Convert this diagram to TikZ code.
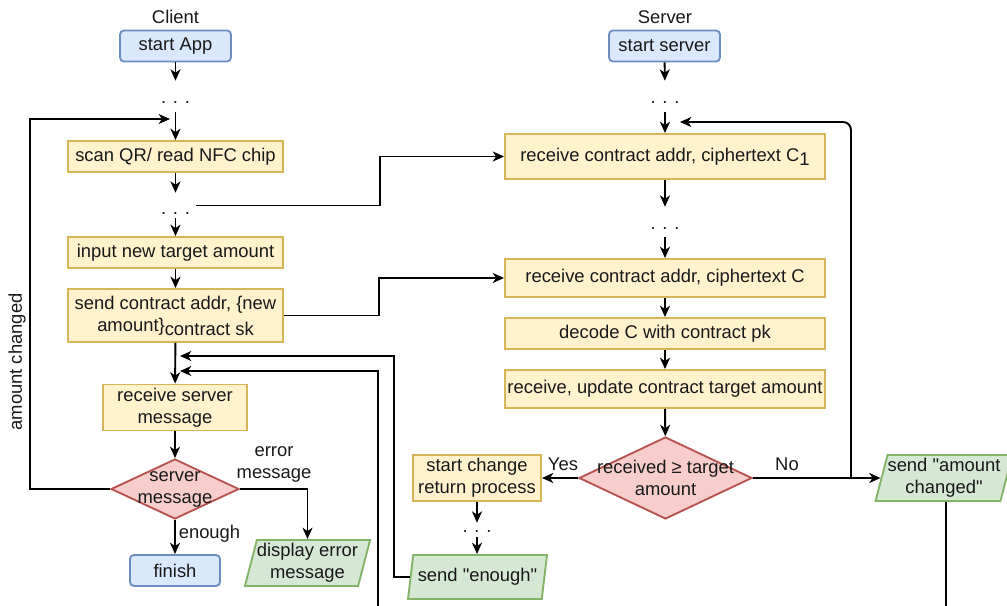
\documentclass[tikz,border=0pt]{standalone}
\usepackage{fontspec}
\setmainfont{Liberation Sans}
\usetikzlibrary{shapes.geometric,arrows.meta}
\definecolor{bfill}{HTML}{DAE8FC}\definecolor{bdraw}{HTML}{6C8EBF}
\definecolor{yfill}{HTML}{FFF2CC}\definecolor{ydraw}{HTML}{D6B656}
\definecolor{rfill}{HTML}{F8CECC}\definecolor{rdraw}{HTML}{B85450}
\definecolor{gfill}{HTML}{D5E8D4}\definecolor{gdraw}{HTML}{82B366}
\begin{document}
\begin{tikzpicture}[x=0.75pt,y=-0.75pt,
 every node/.style={font=\fontsize{13.8}{16.5}\selectfont, inner sep=0pt, align=center, text=black!90},
 box/.style={draw=ydraw, fill=yfill, line width=1.4pt},
 term/.style={draw=bdraw, fill=bfill, line width=1.4pt, rounded corners=3pt},
 dec/.style={diamond, draw=rdraw, fill=rfill, line width=1.4pt},
 io/.style={trapezium, trapezium left angle=73, trapezium right angle=107, trapezium stretches body, draw=gdraw, fill=gfill, line width=1.4pt},
 dotsn/.style={inner xsep=4.5pt},
 conn/.style={line width=1.45pt, -{Stealth[length=8.5pt,width=7.5pt,inset=2.5pt]}},
 plain/.style={line width=1.45pt}
]
\useasboundingbox (0,0) rectangle (1007,606);

% ---------- Client column ----------
\node (client) at (175.5,17) {Client};
\node[term, minimum width=83.25pt, minimum height=23.25pt] (startApp) at (175.5,46) {start App};
\node[dotsn, text height=16.9pt, text depth=6.4pt] (d1) at (175.5,96.5) {. . .};
\node[box, minimum width=161.25pt, minimum height=23.25pt] (scan) at (175.5,156.5) {scan QR/ read NFC chip};
\node[dotsn, text height=16.1pt, text depth=2.6pt] (d2) at (175.5,205.5) {. . .};
\node[box, minimum width=161.25pt, minimum height=23.25pt] (input) at (175.5,252.5) {input new target amount};
\node[box, minimum width=161.25pt, minimum height=39.75pt] (send) at (175.5,315.5) {send contract addr, \{new\\amount\}\raisebox{-3pt}{contract sk}};
\node[box, minimum width=108pt, minimum height=34.5pt] (rmsg) at (175,407.5) {receive server\\message};
\node[dec, minimum width=96pt, minimum height=45pt, label={[align=center]center:{server\\message}}] (da) at (175,489) {};
\node[term, minimum width=67.5pt, minimum height=23.25pt] (finish) at (175,570.5) {finish};
\node[io, minimum width=92.25pt, minimum height=34.5pt] (derr) at (307.5,563) {display error\\message};

% ---------- Server column ----------
\node (server) at (665,17) {Server};
\node[term, minimum width=83.25pt, minimum height=23.25pt] (startSrv) at (664.5,46) {start server};
\node[dotsn, text height=16.9pt, text depth=6.4pt] (d3) at (665,96.5) {. . .};
\node[box, minimum width=240pt, minimum height=33.75pt] (rc1) at (665,156.5) {receive contract addr, ciphertext C\raisebox{-3pt}{1}};
\node[dotsn, text height=16.9pt, text depth=5.6pt] (d4) at (665,222) {. . .};
\node[box, minimum width=240pt, minimum height=28.5pt] (rc) at (665,278) {receive contract addr, ciphertext C};
\node[box, minimum width=240pt, minimum height=23.25pt] (dec) at (665,333.5) {decode C with contract pk};
\node[box, minimum width=240pt, minimum height=28.5pt] (upd) at (665,389) {receive, update contract target amount};
\node[dec, minimum width=129.75pt, minimum height=61.5pt, label={[align=center]center:{received ≥ target\\amount}}] (db) at (665.5,478) {};
\node[box, minimum width=96pt, minimum height=34.5pt] (chg) at (477,478) {start change\\return process};
\node[dotsn, text height=7.1pt, text depth=3.4pt] (d5) at (477,530) {. . .};
\node[io, minimum width=104.25pt, minimum height=33pt] (sEn) at (477.5,577) {send \textquotedbl enough\textquotedbl};
\node[io, minimum width=97.5pt, minimum height=34.5pt] (sCh) at (944,478) {send \textquotedbl amount\\changed\textquotedbl};

% ---------- Edge labels ----------
\node[rotate=90] (lAm) at (17,362) {amount changed};
\node (lErr) at (274,464) {error\\message};
\node (lEn) at (209.5,534) {enough};
\node (lYes) at (563,464) {Yes};
\node (lNo) at (787,464) {No};

% ---------- Free coordinates ----------
\coordinate (c1) at (170,119);
\coordinate (c2) at (180,356);
\coordinate (c3) at (180,371);
\coordinate (c4) at (680,122);
\coordinate (jNo) at (851,478);
\coordinate (outA) at (378,606);
\coordinate (outB) at (946,606);

% ---------- Connectors ----------
\draw[conn] (startApp) -- (d1);
\draw[conn] (d1) -- (scan);
\draw[conn] (scan) -- (d2);
\draw[conn] (d2) -- (input);
\draw[conn] (input) -- (send);
\draw[conn] (send) -- (rmsg);
\draw[conn] (rmsg) -- (da);
\draw[conn] (da) -- (finish);
\draw[conn] (da.east) -| (derr.north -| derr.center);
\draw[conn] (da.west) -- ++(-80,0) |- (c1);
\draw[conn] (d2.east) -- ++(184,0) |- (rc1.west);
\draw[conn] (send.east) -- ++(95,0) |- (rc.west);

\draw[conn] (startSrv) -- (d3);
\draw[conn] (d3) -- (rc1);
\draw[conn] (rc1) -- (d4);
\draw[conn] (d4) -- (rc);
\draw[conn] (rc) -- (dec);
\draw[conn] (dec) -- (upd);
\draw[conn] (upd) -- (db);
\draw[conn] (db.west) -- (chg.east);
\draw[conn] (db.east) -- (sCh.west);
\draw[conn, rounded corners=6pt] (jNo) |- (c4);
\draw[conn] (chg) -- (d5);
\draw[conn] (d5) -- (d5.south |- sEn.north);
\draw[conn] (sEn.west) -- ++(-16,0) |- (c2);
\draw[conn] (outA) |- (c3);
\draw[plain] (sCh.south -| outB) -- (outB);
\end{tikzpicture}
\end{document}
